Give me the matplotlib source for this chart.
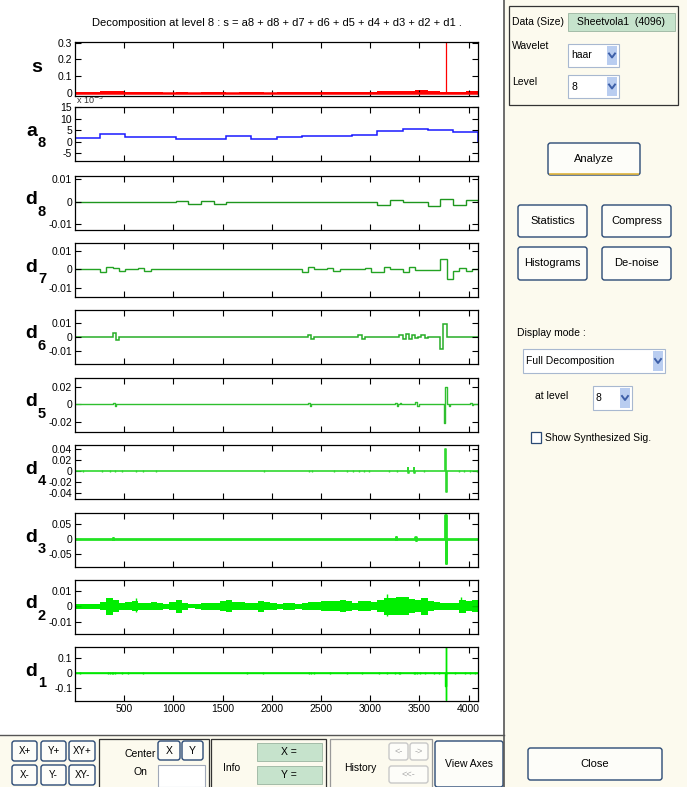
import numpy as np
import matplotlib
matplotlib.use("Agg")
import matplotlib.pyplot as plt
from matplotlib.patches import Rectangle, FancyBboxPatch

plt.rcParams['font.family'] = ['Liberation Sans Narrow', 'Liberation Sans', 'DejaVu Sans']

N = 4096
W, H = 687, 787

# ---- data ----
xticks = [500, 1000, 1500, 2000, 2500, 3000, 3500, 4000]

# s : envelope per 128 samples (x 1e-3) + big spike
s_env = [4, 5, 12, 14, 5, 6, 4, 3, 4, 3, 5, 4, 3, 5, 4, 3,
         4, 5, 8, 7, 6, 8, 6, 8, 10, 11, 14, 16, 12, 6, 9, 11]
s_spike_pos = [3771]
s_spike_val = [0.32]

# a8 : approximation, one value per 256 samples (x 1e-3)
a8 = [1.7, 3.6, 1.95, 1.95, 1.4, 1.4, 2.4, 1.4,
      1.9, 2.5, 2.5, 3.1, 4.5, 5.5, 5.1, 4.4]

# d8 : one value per 128 samples (x 1e-3)
d8 = [0, 0, 0, 0, 0, 0, 0, 0, 0.6, -0.75, 0.6, -0.75, 0, 0, 0, 0,
      0, 0, 0, 0, 0, 0, 0, 0, -1.5, 1.0, 0, 0, -2.0, 1.5, -1.5, 0.9]

# d7 : one value per 64 samples (x 1e-3)
d7 = [0, 0, 0, 0, -1.6, 1.3, 0.9, -0.7, 0.2, 0.2, 0.5, -0.7, 0, 0, 0, 0,
      0, 0, 0, 0, 0, 0, 0, 0, 0, 0, 0, 0, 0, 0, 0, 0,
      0, 0, 0, 0, -1.6, 1.4, 0, 0, 0.9, -0.7, 0, 0, 0, 0, 0.9, -1.2,
      -1.5, 1.4, 0, 0, -1.6, 1.4, -0.6, -0.6, -0.6, -0.2, 5.4, -5.4, -0.7, 0.9, -0.7, 0.4]

# d6 : non-zero blocks of 32 samples (block index, value x 1e-3)
d6_idx = [12, 13, 74, 75, 90, 91, 103, 104, 105, 106, 107, 108, 110, 111, 116, 117]
d6_val = [3.0, -2.0, 1.7, -1.2, 1.5, -1.2, 1.8, -1.6, 2.0, -1.8, 1.2, -0.8, 1.6, -1.0, -9.0, 9.6]

# d5 : pulses of 16 samples (start sample, value x 1e-3)
d5_pos = [388, 404, 2370, 2386, 3256, 3272, 3300, 3460, 3476, 3747, 3763, 3797, 4018, 4034]
d5_val = [1.5, -1.5, 2.0, -1.5, 2.0, -1.5, 1.0, 3.0, -1.5, -21.0, 20.0, -1.5, 1.5, -1.0]

# d4 : small blips (sample) and the large burst
d4_blip = [85, 271, 356, 407, 475, 621, 695, 824, 1923, 2374, 2408, 2628, 2764, 2825,
           2882, 2933, 2984, 3187, 3272, 3544, 3899, 3950, 4018, 4086]
d4_pos = [3381, 3389, 3442, 3450, 3764, 3772]
d4_val = [5.0, -4.0, 5.0, -4.0, 39.0, -38.0]

# d3 : events (sample, value x 1e-3)
d3_pos = [388, 3262, 3459, 3467, 3764, 3768]
d3_val = [2.0, 5.0, 6.0, -4.0, 79.0, -80.0]

# d2 : envelope per 64 samples (x 1e-3) + spikes
d2_env = [1.7, 1.7, 1.7, 1.7, 2.5, 5.3, 3.8, 2.1, 2.5, 3.2, 2.1, 2.1, 2.5, 2.1, 1.7, 2.5,
          4.2, 2.1, 1.1, 1.5, 2.1, 2.1, 2.1, 3.2, 3.8, 2.5, 2.5, 2.1, 2.1, 3.6, 2.5, 2.1,
          1.7, 2.1, 2.1, 1.7, 2.1, 2.5, 2.5, 3.2, 3.2, 3.2, 3.8, 3.2, 2.1, 3.2, 3.2, 2.5,
          3.8, 5.3, 5.3, 5.9, 5.9, 4.6, 3.8, 5.3, 3.2, 2.5, 2.1, 2.1, 2.1, 4.2, 3.2, 3.8]
d2_spk_pos = [617, 3171, 3927]
d2_spk_up = [5.2, 8.0, 6.0]
d2_spk_dn = [-3.5, -6.0, -3.0]

# d1 : small blips and the large burst
d1_blip = [51, 339, 356, 373, 390, 407, 475, 543, 695, 1746, 1916, 2374, 2398, 2425, 2594,
           2764, 2916, 3086, 3170, 3255, 3289, 3306, 3442, 3459, 3476, 3510, 3560, 3645,
           3696, 3866, 3967, 4018, 4069]
d1_pos = [3764, 3771, 3772]
d1_val = [-0.09, 0.18, -0.178]

names = ['s', 'a', 'd', 'd', 'd', 'd', 'd', 'd', 'd', 'd']
subs = ['', '8', '8', '7', '6', '5', '4', '3', '2', '1']
ylims = [(-0.017, 0.303), (-8.4, 15.2), (-0.0125, 0.0115), (-0.0151, 0.0144),
         (-0.0197, 0.0197), (-0.0316, 0.030), (-0.05, 0.047), (-0.092, 0.0855),
         (-0.0177, 0.0167), (-0.187, 0.172)]
yticks = [[0, 0.1, 0.2, 0.3], [-5, 0, 5, 10, 15], [-0.01, 0, 0.01], [-0.01, 0, 0.01],
          [-0.01, 0, 0.01], [-0.02, 0, 0.02], [-0.04, -0.02, 0, 0.02, 0.04],
          [-0.05, 0, 0.05], [-0.01, 0, 0.01], [-0.1, 0, 0.1]]
ylabels = [['0', '0.1', '0.2', '0.3'], ['-5', '0', '5', '10', '15'],
           ['-0.01', '0', '0.01'], ['-0.01', '0', '0.01'], ['-0.01', '0', '0.01'],
           ['-0.02', '0', '0.02'], ['-0.04', '-0.02', '0', '0.02', '0.04'],
           ['-0.05', '0', '0.05'], ['-0.01', '0', '0.01'], ['-0.1', '0', '0.1']]
colors = ['#ff0000', '#1a1aff', '#1e961e', '#23a323', '#27ad27', '#2fbf2f',
          '#2fd82f', '#22e222', '#00ee00', '#00e800']
tops = [42, 107, 176, 243, 310, 378, 445, 513, 580, 647]

cream = '#fcfaee'
fig = plt.figure(figsize=(6.87, 7.87), dpi=100, facecolor=cream)

# background / GUI layer in pixel coords
bg = fig.add_axes([0, 0, 1, 1])
bg.set_xlim(0, W)
bg.set_ylim(H, 0)
bg.axis('off')
bg.set_zorder(-1)
bg.add_patch(Rectangle((0, 0), 504, 735, fc='white', ec='none'))
bg.plot([504, 504], [0, H], color='#555555', lw=1.2)
bg.plot([0, 504], [735, 735], color='#555555', lw=1.0)

x = np.arange(1, N + 1)


def make_ax(i):
    top = tops[i]
    ax = fig.add_axes([75 / W, 1 - (top + 54) / H, 403 / W, 54 / H])
    ax.set_xlim(1, N)
    ax.set_ylim(*ylims[i])
    ax.set_xticks(xticks)
    ax.set_yticks(yticks[i])
    ax.set_yticklabels(ylabels[i])
    ax.tick_params(direction='in', length=4, width=0.8, top=True, right=True,
                   labelsize=7.5, pad=2)
    if i < 9:
        ax.set_xticklabels([])
    for sp in ax.spines.values():
        sp.set_linewidth(0.9)
    cy = top + 27
    if subs[i]:
        bg.text(37, cy - 3, names[i], fontsize=14, fontweight='bold', ha='right', va='center')
        bg.text(38, cy + 9, subs[i], fontsize=10.5, fontweight='bold', ha='left', va='center')
    else:
        bg.text(37, cy - 2, names[i], fontsize=14, fontweight='bold', ha='center', va='center')
    return ax


axs = [make_ax(i) for i in range(10)]

# s
ax = axs[0]
edges = np.arange(len(s_env) + 1) * (N // len(s_env)) + 1
ax.stairs(np.array(s_env) * 1e-3, edges, baseline=0, fill=True, color=colors[0], lw=0)
ax.axhline(0.001, color=colors[0], lw=1.8)
ax.vlines(s_spike_pos, 0, s_spike_val, color=colors[0], lw=0.9)

# a8 (x 1e-3)
ax = axs[1]
edges = np.arange(len(a8) + 1) * (N // len(a8)) + 1
ax.stairs(a8, edges, color=colors[1], lw=1.1)
bg.text(76, 100, r'x 10$^{-3}$', fontsize=6.5, ha='left', va='center', color='#333333')

# d8, d7
for k, vals in [(2, d8), (3, d7)]:
    edges = np.arange(len(vals) + 1) * (N // len(vals)) + 1
    axs[k].stairs(np.array(vals) * 1e-3, edges, color=colors[k], lw=1.0)

# d6
d6 = np.zeros(128)
d6[d6_idx] = d6_val
edges = np.arange(129) * 32 + 1
axs[4].stairs(d6 * 1e-3, edges, color=colors[4], lw=1.1)


def pulse_line(pos, val, w):
    xs, ys = [1], [0]
    for p, v in sorted(zip(pos, val)):
        xs += [p, p, p + w, p + w]
        ys += [0, v, v, 0]
    xs.append(N)
    ys.append(0)
    return xs, ys


# d5
xs, ys = pulse_line(d5_pos, np.array(d5_val) * 1e-3, 16)
axs[5].plot(xs, ys, color=colors[5], lw=1.0)

# d4
xs, ys = pulse_line(d4_pos, np.array(d4_val) * 1e-3, 8)
axs[6].plot(xs, ys, color=colors[6], lw=1.2)
axs[6].vlines(d4_blip, -0.002, 0.002, color=colors[6], lw=1.0)

# d3
xs, ys = pulse_line(d3_pos, np.array(d3_val) * 1e-3, 4)
axs[7].plot(xs, ys, color=colors[7], lw=2.0)

# d2
ax = axs[8]
env = np.array(d2_env) * 1e-3
edges = np.arange(len(env) + 1) * (N // len(env)) + 1
ax.stairs(env, edges, baseline=-env, fill=True, color=colors[8], lw=0)
ax.vlines(d2_spk_pos, np.array(d2_spk_dn) * 1e-3, np.array(d2_spk_up) * 1e-3,
          color=colors[8], lw=1.0)
ax.axhline(0, color=colors[8], lw=1.2)

# d1
ax = axs[9]
ax.axhline(0, color=colors[9], lw=1.2)
ax.vlines(d1_blip, -0.008, 0.008, color=colors[9], lw=1.0)
xs, ys = pulse_line(d1_pos, d1_val, 2)
ax.plot(xs, ys, color=colors[9], lw=1.0)

bg.text(277, 23, 'Decomposition at level 8 : s = a8 + d8 + d7 + d6 + d5 + d4 + d3 + d2 + d1 .',
        fontsize=8, ha='center', va='center')

# ---- GUI controls ----
green = '#c6e3cc'
btn_ec = '#2b4a75'


def button(x0, y0, x1, y1, label, fs=8, color='black', ec=btn_ec, fc='#fdfdf9'):
    bg.add_patch(FancyBboxPatch((x0, y0), x1 - x0, y1 - y0,
                                boxstyle='round,pad=0,rounding_size=2.5',
                                fc=fc, ec=ec, lw=1.0))
    bg.text((x0 + x1) / 2, (y0 + y1) / 2, label, fontsize=fs, ha='center',
            va='center', color=color)


def popup(x0, y0, x1, y1, label):
    bg.add_patch(Rectangle((x0, y0), x1 - x0, y1 - y0, fc='white', ec='#a8b8d0', lw=0.8))
    bg.add_patch(Rectangle((x1 - 12, y0 + 2), 10, y1 - y0 - 4, fc='#b9cdf0', ec='none'))
    cx, cy = x1 - 7, (y0 + y1) / 2
    bg.plot([cx - 3, cx, cx + 3], [cy - 2, cy + 2, cy - 2], color='#3d5fa8', lw=1.4)
    bg.text(x0 + 3, cy, label, fontsize=7.5, ha='left', va='center')


# top box
bg.add_patch(Rectangle((509, 6), 169, 99, fc='none', ec='#333333', lw=0.9))
bg.text(512, 22, 'Data (Size)', fontsize=7.5, ha='left', va='center')
bg.add_patch(Rectangle((568, 13), 107, 18, fc=green, ec='#9ab4a0', lw=0.6))
bg.text(621, 22, 'Sheetvola1  (4096)', fontsize=7.5, ha='center', va='center')
bg.text(512, 46, 'Wavelet', fontsize=7.5, ha='left', va='center')
popup(568, 44, 619, 67, 'haar')
bg.text(512, 82, 'Level', fontsize=7.5, ha='left', va='center')
popup(568, 75, 619, 98, '8')

# Analyze
button(548, 143, 640, 175, 'Analyze')
bg.plot([550, 638], [174, 174], color='#e0b43c', lw=1.2)

button(518, 205, 587, 237, 'Statistics')
button(602, 205, 671, 237, 'Compress')
button(518, 247, 587, 280, 'Histograms')
button(602, 247, 671, 280, 'De-noise')

bg.text(517, 333, 'Display mode :', fontsize=7.5, ha='left', va='center')
popup(523, 349, 665, 373, 'Full Decomposition')
bg.text(535, 396, 'at level', fontsize=7.5, ha='left', va='center')
popup(593, 386, 632, 410, '8')
bg.add_patch(Rectangle((531, 432), 10, 11, fc='white', ec='#2b4a75', lw=0.9))
bg.text(545, 438, 'Show Synthesized Sig.', fontsize=7.5, ha='left', va='center')

button(528, 748, 662, 780, 'Close')

# bottom bar
button(12, 741, 37, 761, 'X+', fs=7)
button(41, 741, 66, 761, 'Y+', fs=7)
button(69, 741, 95, 761, 'XY+', fs=7)
button(12, 765, 37, 785, 'X-', fs=7)
button(41, 765, 66, 785, 'Y-', fs=7)
button(69, 765, 95, 785, 'XY-', fs=7)

bg.add_patch(Rectangle((99, 739), 110, 50, fc='none', ec='#333333', lw=0.9))
bg.text(140, 754, 'Center', fontsize=7.5, ha='center', va='center')
bg.text(140, 772, 'On', fontsize=7.5, ha='center', va='center')
button(158, 741, 180, 760, 'X', fs=7.5)
button(182, 741, 203, 760, 'Y', fs=7.5)
bg.add_patch(Rectangle((158, 765), 47, 22, fc='white', ec='#a0a8b8', lw=0.8))

bg.add_patch(Rectangle((211, 739), 115, 50, fc='none', ec='#333333', lw=0.9))
bg.text(232, 768, 'Info', fontsize=7.5, ha='center', va='center')
bg.add_patch(Rectangle((257, 743), 65, 18, fc=green, ec='#9ab4a0', lw=0.6))
bg.text(289, 752, 'X =', fontsize=7.5, ha='center', va='center')
bg.add_patch(Rectangle((257, 766), 65, 18, fc=green, ec='#9ab4a0', lw=0.6))
bg.text(289, 775, 'Y =', fontsize=7.5, ha='center', va='center')

bg.add_patch(Rectangle((330, 739), 102, 50, fc='none', ec='#999999', lw=0.9))
bg.text(360, 768, 'History', fontsize=7.5, ha='center', va='center')
button(389, 743, 408, 760, '<-', fs=6.5, color='#aaaaaa', ec='#c8c8c8')
button(410, 743, 428, 760, '->', fs=6.5, color='#aaaaaa', ec='#c8c8c8')
button(389, 766, 428, 783, '<<-', fs=6.5, color='#aaaaaa', ec='#c8c8c8')

button(435, 741, 503, 787, 'View Axes', fs=7.5)

fig.savefig('out.png', dpi=100, facecolor=fig.get_facecolor())
